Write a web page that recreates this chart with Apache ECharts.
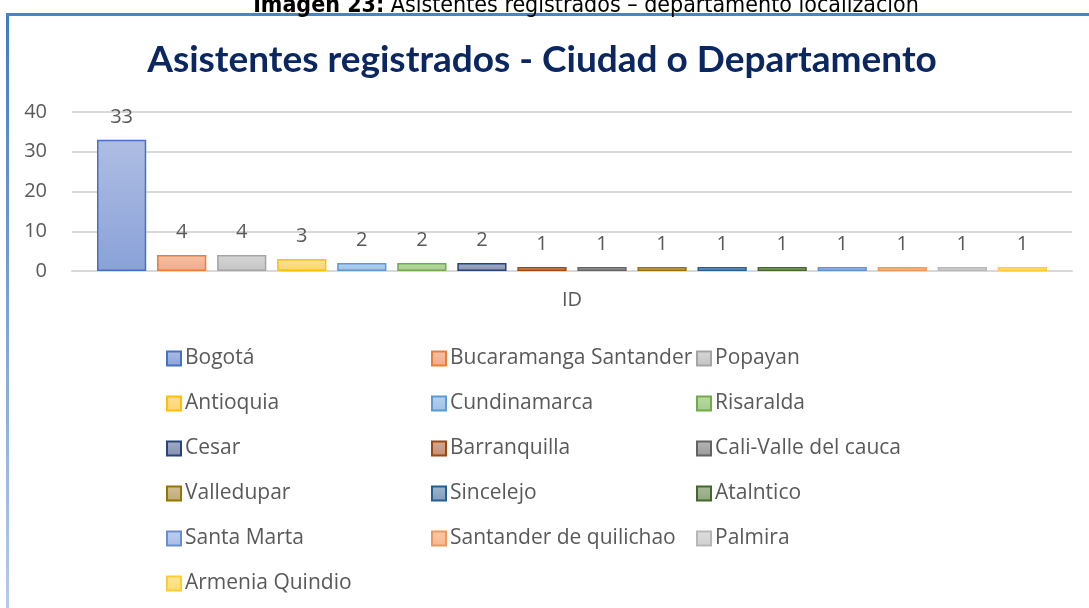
<!DOCTYPE html>
<html>
<head>
<meta charset="utf-8">
<script src="https://cdn.jsdelivr.net/npm/echarts@6/dist/echarts.min.js"></script>
<style>
  html, body { margin: 0; padding: 0; background: #fff; }
  #wrap { position: relative; width: 1089px; height: 608px; overflow: hidden; }
  #frame {
    position: absolute; left: 6px; top: 13px; right: -10px; bottom: -10px;
    border-top: 3px solid #4a84c4;
    background: linear-gradient(#3f7cc2, #b8cbea) left top / 3px 100% no-repeat;
  }
  #main { position: absolute; left: 0; top: 0; width: 1089px; height: 608px; }
</style>
</head>
<body>
<div id="wrap">
  <div id="frame"></div>
  <div id="main"></div>
</div>
<script>
const categories = ['ID'];
const cities = [
  'Bogotá', 'Bucaramanga Santander', 'Popayan', 'Antioquia', 'Cundinamarca', 'Risaralda',
  'Cesar', 'Barranquilla', 'Cali-Valle del cauca', 'Valledupar', 'Sincelejo', 'Atalntico',
  'Santa Marta', 'Santander de quilichao', 'Palmira', 'Armenia Quindio'
];
const values = [33, 4, 4, 3, 2, 2, 2, 1, 1, 1, 1, 1, 1, 1, 1, 1];
const yTicks = [0, 10, 20, 30, 40];

// office palette: border colour + light fill (top, bottom)
const palette = [
  ['#4472c4', '#aebde3', '#8aa2d9'],
  ['#ed7d31', '#f7c1a6', '#f2a987'],
  ['#a5a5a5', '#d6d6d6', '#c4c4c4'],
  ['#ffc000', '#ffe19a', '#ffd469'],
  ['#5b9bd5', '#b8d2ee', '#9cc0e6'],
  ['#70ad47', '#bcd9a8', '#a4cd8a'],
  ['#264478', '#a3adc6', '#8391b0'],
  ['#9e480e', '#d4aa94', '#c48d74'],
  ['#636363', '#b6b6b6', '#9a9a9a'],
  ['#997300', '#d2c098', '#bea876'],
  ['#255e91', '#a0b7cf', '#7d9cbc'],
  ['#43682b', '#aabb9c', '#8fa67c'],
  ['#698ed0', '#bfcfee', '#a6bce6'],
  ['#f1975a', '#f9cbac', '#f6b58c'],
  ['#b7b7b7', '#dedede', '#cfcfcf'],
  ['#ffcd33', '#ffe69c', '#ffdc70']
];

const chart = echarts.init(document.getElementById('main'));

const series = cities.map((name, i) => ({
  name: name,
  type: 'bar',
  data: [values[i]],
  barGap: '22%',
  barCategoryGap: '5%',
  itemStyle: {
    color: new echarts.graphic.LinearGradient(0, 0, 0, 1, [
      { offset: 0, color: palette[i][1] },
      { offset: 1, color: palette[i][2] }
    ]),
    borderColor: palette[i][0],
    borderWidth: 1.5
  },
  label: {
    show: true,
    position: 'top',
    distance: 13,
    color: '#595959',
    fontSize: 20,
    fontFamily: 'Open Sans'
  }
}));

chart.setOption({
  animation: false,
  title: [
    {
      text: '{b|Imagen 23:} Asistentes registrados – departamento localización',
      left: 581, top: -10, textAlign: 'center',
      textStyle: {
        fontFamily: 'DejaVu Sans Condensed', fontSize: 23, fontWeight: 'normal', color: '#000',
        rich: { b: { fontFamily: 'DejaVu Sans Condensed', fontSize: 23, fontWeight: 'bold', color: '#000' } }
      }
    },
    {
      text: 'Asistentes registrados - Ciudad o Departamento',
      left: 537, top: 37, textAlign: 'center',
      textStyle: { fontFamily: 'Lato', fontSize: 37, fontWeight: 'bold', color: '#0b2761' }
    }
  ],
  grid: { left: 72, right: 17, top: 112, height: 159 },
  xAxis: {
    type: 'category',
    data: categories,
    axisLine: { lineStyle: { color: '#d9d9d9', width: 2 } },
    axisTick: { show: false },
    axisLabel: { color: '#595959', fontSize: 20, fontFamily: 'Open Sans', margin: 19 }
  },
  yAxis: {
    type: 'value',
    min: yTicks[0],
    max: yTicks[yTicks.length - 1],
    interval: 10,
    axisLine: { show: false },
    axisTick: { show: false },
    splitLine: { lineStyle: { color: '#d9d9d9', width: 2 } },
    axisLabel: { color: '#595959', fontSize: 20, fontFamily: 'Open Sans', margin: 25 }
  },
  legend: {
    data: cities,
    left: 161, top: 331, width: 810,
    itemWidth: 14, itemHeight: 14, itemGap: 0,
    icon: 'rect',
    textStyle: { color: '#595959', fontSize: 21, fontFamily: 'Open Sans', width: 246, lineHeight: 45, padding: [0, 0, 0, -1] }
  },
  series: series
});
</script>
</body>
</html>
